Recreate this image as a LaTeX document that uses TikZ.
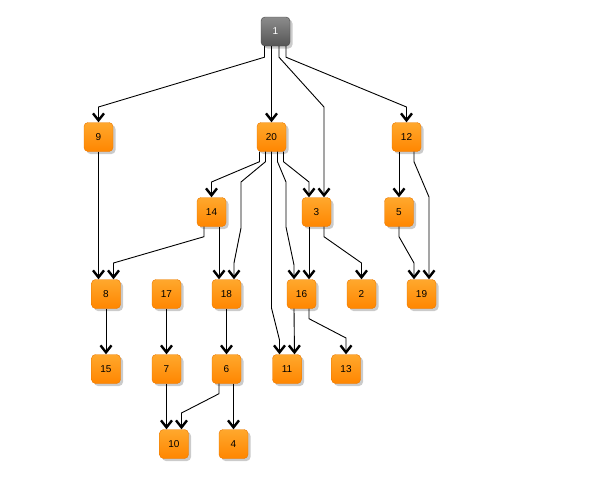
\documentclass[tikz,border=0pt]{standalone}
\usepackage{fontspec}
\setmainfont{Liberation Sans}
\usetikzlibrary{arrows.meta,shadows}
\definecolor{orTop}{RGB}{255,168,45}
\definecolor{orBot}{RGB}{255,134,0}
\definecolor{orEdge}{RGB}{235,120,0}
\definecolor{gyTop}{RGB}{140,140,140}
\definecolor{gyBot}{RGB}{85,85,85}
\tikzset{
  box/.style={rectangle, rounded corners=4pt, minimum width=29pt, minimum height=29pt,
    inner sep=0pt, top color=orTop, bottom color=orBot, draw=orEdge, line width=0.4pt,
    font=\fontsize{10}{12}\selectfont, text=black,
    drop shadow={shadow xshift=2.5pt, shadow yshift=-2.5pt, fill=black!45, opacity=0.45}},
  rootbox/.style={box, top color=gyTop, bottom color=gyBot, draw=gyBot!80!black, text=white},
  edge/.style={line width=0.9pt, draw=black,
    -{Straight Barb[length=7pt,width=11pt,line width=2.4pt,color=black]}}
}
\begin{document}
\begin{tikzpicture}[x=1pt,y=-1pt]
\useasboundingbox (0,0) rectangle (614,477);
\node[rootbox] (n1) at (275.5,31.5) {1};
\node[box] (n9) at (98.5,137) {9};
\node[box] (n20) at (271.5,137) {20};
\node[box] (n12) at (406.5,137) {12};
\node[box] (n14) at (211.5,212) {14};
\node[box] (n3) at (316.5,212) {3};
\node[box] (n5) at (399,212) {5};
\node[box] (n8) at (106,294) {8};
\node[box] (n17) at (166.5,294) {17};
\node[box] (n18) at (226.5,294) {18};
\node[box] (n16) at (301.5,294) {16};
\node[box] (n2) at (361.5,294) {2};
\node[box] (n19) at (421.5,294) {19};
\node[box] (n15) at (106,369) {15};
\node[box] (n7) at (166.5,369) {7};
\node[box] (n6) at (226.5,369) {6};
\node[box] (n11) at (287,369) {11};
\node[box] (n13) at (346,369) {13};
\node[box] (n10) at (174,444) {10};
\node[box] (n4) at (233.5,444) {4};

% from 1
\draw[edge] ([xshift=-11pt]n1.south) -- ++(0,11) -- (98.5,107) -- (n9.north);
\draw[edge] (n1.south -| n20.north) -- (n20.north);
\draw[edge] ([xshift=3.5pt]n1.south) -- ++(0,11) -- (324,107) -- ([xshift=7.5pt]n3.north);
\draw[edge] ([xshift=10.5pt]n1.south) -- ++(0,11) -- (406.5,107) -- (n12.north);
% from 9
\draw[edge] (n9.south) -- ([xshift=-7.5pt]n8.north);
% from 20
\draw[edge] ([xshift=-12pt]n20.south) -- ++(0,10) -- (211.5,182) -- (n14.north);
\draw[edge] ([xshift=-6pt]n20.south) -- ++(0,10) -- (241,182) -- (241,228) -- (234,263) -- ([xshift=7.5pt]n18.north);
\draw[edge] (n20.south) -- (271.5,308) -- (279.5,340) -- ([xshift=-7.5pt]n11.north);
\draw[edge] ([xshift=6pt]n20.south) -- ++(0,10) -- (286,182) -- (286,227) -- (294,265) -- ([xshift=-7.5pt]n16.north);
\draw[edge] ([xshift=12pt]n20.south) -- ++(0,10) -- (309,182) -- ([xshift=-7.5pt]n3.north);
% from 12
\draw[edge] ([xshift=-7.5pt]n12.south) -- (n5.north);
\draw[edge] ([xshift=7.5pt]n12.south) -- ++(0,10) -- (429,197) -- ([xshift=7.5pt]n19.north);
% from 14
\draw[edge] ([xshift=-7.5pt]n14.south) -- ++(0,10) -- (113.5,263) -- ([xshift=7.5pt]n8.north);
\draw[edge] ([xshift=7.5pt]n14.south) -- ([xshift=-7.5pt]n18.north);
% from 3
\draw[edge] ([xshift=-7.5pt]n3.south) -- ([xshift=7.5pt]n16.north);
\draw[edge] ([xshift=7.5pt]n3.south) -- ++(0,10) -- (361.5,263) -- (n2.north);
% from 5
\draw[edge] (n5.south) -- ++(0,10) -- (414,263) -- ([xshift=-7.5pt]n19.north);
% row 3 -> row 4
\draw[edge] (n8.south) -- (n15.north);
\draw[edge] (n17.south) -- (n7.north);
\draw[edge] (n18.south) -- (n6.north);
\draw[edge] ([xshift=-7.5pt]n16.south) -- ([xshift=7.5pt]n11.north);
\draw[edge] ([xshift=7.5pt]n16.south) -- ++(0,10) -- (346,338) -- (n13.north);
% row 4 -> row 5
\draw[edge] (n7.south) -- ([xshift=-7.5pt]n10.north);
\draw[edge] ([xshift=-7.5pt]n6.south) -- ++(0,10) -- (181.5,413) -- ([xshift=7.5pt]n10.north);
\draw[edge] ([xshift=7pt]n6.south) -- (n4.north);
\end{tikzpicture}
\end{document}
